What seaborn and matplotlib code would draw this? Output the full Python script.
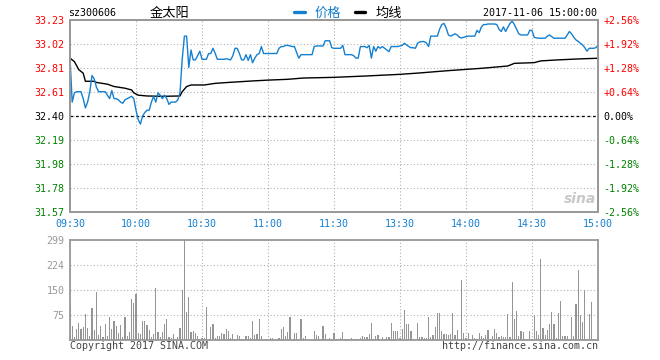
import numpy as np
import pandas as pd
import matplotlib
matplotlib.use("Agg")
import matplotlib.pyplot as plt
from matplotlib.lines import Line2D
import seaborn as sns

# ---------------- data ----------------
symbol = "sz300606"
name = "金太阳"
timestamp = "2017-11-06 15:00:00"
pre_close = 32.40
pct_steps = [-2.56, -1.92, -1.28, -0.64, 0.00, 0.64, 1.28, 1.92, 2.56]
pct_labels = ["-2.56%", "-1.92%", "-1.28%", "-0.64%", "0.00%",
              "+0.64%", "+1.28%", "+1.92%", "+2.56%"]
price_labels = ["31.57", "31.78", "31.98", "32.19", "32.40",
                "32.61", "32.81", "33.02", "33.23"]
time_labels = ["09:30", "10:00", "10:30", "11:00", "11:30",
               "13:30", "14:00", "14:30", "15:00"]
vol_ticks = [75, 150, 224, 299]

price = [
    32.90, 32.52, 32.60, 32.61, 32.61, 32.61, 32.55, 32.47, 32.52, 32.61,
    32.75, 32.72, 32.65, 32.61, 32.61, 32.61, 32.61, 32.58, 32.55, 32.62,
    32.55, 32.55, 32.54, 32.52, 32.51, 32.54, 32.55, 32.56, 32.57, 32.55,
    32.45, 32.37, 32.33, 32.40, 32.43, 32.45, 32.45, 32.52, 32.57, 32.52,
    32.60, 32.58, 32.55, 32.58, 32.55, 32.50, 32.52, 32.52, 32.52, 32.54,
    32.60, 32.89, 33.09, 33.09, 32.82, 32.97, 32.885, 32.885, 32.92, 32.96,
    32.89, 32.89, 32.89, 32.94, 32.94, 32.985, 32.94, 32.89, 32.89, 32.89,
    32.89, 32.895, 32.89, 32.885, 32.92, 32.985, 32.985, 32.94, 32.885, 32.885,
    32.93, 32.88, 32.93, 32.86, 32.90, 32.93, 32.94, 33.00, 32.94, 32.94,
    32.94, 32.94, 32.94, 32.94, 32.94, 32.985, 33.00, 33.00, 33.01, 33.01,
    33.005, 33.00, 33.00, 32.95, 32.90, 32.93, 32.93, 32.93, 32.93, 32.93,
    32.93, 33.00, 33.005, 33.005, 33.005, 33.005, 33.05, 33.05, 33.05, 32.99,
    32.985, 32.985, 32.985, 32.985, 33.01, 32.93, 32.93, 32.93, 32.93, 32.92,
    32.90, 32.90, 33.00, 33.00, 33.00, 32.99, 33.01, 32.90, 33.00, 32.96,
    33.00, 32.985, 33.00, 32.985, 32.97, 32.956, 33.00, 33.00, 33.00, 33.00,
    33.005, 33.01, 33.028, 33.014, 33.00, 32.99, 32.99, 32.985, 33.028, 33.04,
    33.043, 33.043, 33.03, 33.00, 33.09, 33.09, 33.09, 33.09, 33.15, 33.19,
    33.20, 33.16, 33.10, 33.09, 33.10, 33.11, 33.10, 33.08, 33.075, 33.08,
    33.086, 33.09, 33.09, 33.09, 33.09, 33.14, 33.12, 33.17, 33.19, 33.19,
    33.195, 33.195, 33.195, 33.195, 33.19, 33.15, 33.13, 33.17, 33.13, 33.165,
    33.20, 33.22, 33.19, 33.15, 33.11, 33.10, 33.10, 33.10, 33.10, 33.14,
    33.14, 33.08, 33.075, 33.072, 33.072, 33.072, 33.072, 33.09, 33.10, 33.085,
    33.072, 33.072, 33.072, 33.072, 33.072, 33.072, 33.10, 33.13, 33.11, 33.08,
    33.057, 33.045, 33.028, 33.014, 32.99, 32.96, 32.985, 32.985, 32.985, 32.99,
    33.014,
]

avg_minute = [0, 2, 4, 6, 7, 11, 12, 17, 20, 25, 28, 29, 31, 35, 42, 50, 51, 53,
              55, 61, 66, 72, 83, 90, 99, 106, 120, 135, 150, 159, 172, 187,
              199, 202, 211, 214, 221, 231, 240]
avg_price = [32.90, 32.87, 32.80, 32.77, 32.70, 32.70, 32.69, 32.675, 32.655,
             32.64, 32.625, 32.60, 32.58, 32.573, 32.57, 32.573, 32.61, 32.654,
             32.668, 32.668, 32.682, 32.69, 32.703, 32.71, 32.717, 32.728,
             32.734, 32.746, 32.76, 32.772, 32.792, 32.812, 32.832, 32.855,
             32.861, 32.876, 32.884, 32.893, 32.899]

volume = [
    105, 43, 10, 33, 52, 33, 40, 78, 37, 13,
    96, 30, 144, 15, 43, 8, 48, 13, 69, 33,
    57, 43, 22, 45, 9, 69, 13, 25, 123, 112,
    138, 20, 18, 57, 57, 45, 30, 9, 18, 156,
    25, 9, 24, 48, 63, 9, 6, 18, 3, 9,
    36, 150, 299, 84, 129, 24, 27, 21, 12, 3,
    6, 6, 99, 3, 39, 48, 6, 12, 12, 21,
    18, 33, 27, 6, 18, 3, 15, 12, 3, 3,
    12, 12, 6, 57, 15, 18, 63, 12, 0, 3,
    0, 6, 6, 0, 0, 6, 33, 39, 12, 24,
    69, 0, 21, 21, 0, 63, 6, 12, 0, 0,
    0, 27, 15, 12, 0, 42, 18, 3, 5, 3,
    20, 3, 3, 5, 25, 2, 2, 2, 5, 3,
    2, 2, 5, 12, 9, 9, 18, 51, 3, 12,
    15, 3, 9, 2, 9, 9, 51, 27, 27, 27,
    6, 33, 90, 48, 48, 27, 3, 0, 51, 9,
    9, 6, 6, 69, 9, 15, 39, 80, 82, 27,
    18, 18, 15, 18, 81, 15, 30, 3, 180, 21,
    6, 21, 3, 15, 6, 3, 21, 12, 6, 15,
    30, 3, 12, 33, 21, 9, 12, 9, 9, 78,
    9, 174, 63, 87, 12, 27, 24, 3, 3, 27,
    3, 75, 27, 15, 243, 36, 15, 30, 48, 84,
    48, 6, 81, 117, 12, 12, 12, 3, 69, 12,
    108, 210, 75, 54, 150, 3, 78, 114, 3, 0,
    0,
]

# ---------------- style ----------------
sns.set_style("white")
plt.rcParams["font.family"] = ["DejaVu Sans Mono", "Noto Sans CJK SC"]
CJK = ["Noto Sans CJK SC", "DejaVu Sans"]

BLUE = "#1580d0"
RED = "#ff0000"
GREEN = "#008000"
GRAY = "#999999"
GRID = "#b0b0b0"
FS = 7.2

W, H = 660, 360
fig = plt.figure(figsize=(W / 100, H / 100), dpi=100)
fig.patch.set_facecolor("white")


def fx(px):
    return px / W


def fy(py):
    return 1 - py / H


ax = fig.add_axes([fx(70), fy(212), 528 / W, 192 / H])
axv = fig.add_axes([fx(70), fy(340), 528 / W, 100 / H])

minutes = np.arange(len(price))
n_min = len(price) - 1
time_pos = np.arange(len(time_labels)) * (n_min // (len(time_labels) - 1))

df = pd.DataFrame({"minute": minutes, "price": price})
df_avg = pd.DataFrame({"minute": avg_minute, "avg": avg_price})
df_vol = pd.DataFrame({"minute": minutes, "volume": volume})

# ---- price panel ----
price_pos = [pre_close * (1 + p / 100) for p in pct_steps]
ax.set_xlim(0, n_min)
ax.set_ylim(price_pos[0], price_pos[-1])
ax.set_yticks(price_pos)
ax.set_xticks(time_pos)
ax.grid(True, color=GRID, linestyle=(0, (1, 2)), linewidth=0.8)
ax.axhline(pre_close, color="black", linestyle=(0, (2.2, 2.2)), linewidth=0.9, zorder=2)

sns.lineplot(data=df_avg, x="minute", y="avg", ax=ax, color="black",
             linewidth=1.0, legend=False, zorder=3)
sns.lineplot(data=df, x="minute", y="price", ax=ax, color=BLUE,
             linewidth=1.0, legend=False, zorder=4)
ax.set_xlim(0, n_min)
ax.set_ylim(price_pos[0], price_pos[-1])
ax.set_xlabel("")
ax.set_ylabel("")

ax.set_yticklabels(price_labels, fontsize=FS)
for lab, p in zip(ax.get_yticklabels(), pct_steps):
    lab.set_color(RED if p > 0 else (GREEN if p < 0 else "black"))
ax.set_xticklabels(time_labels, fontsize=FS, color=BLUE)
ax.tick_params(axis="both", length=0)
ax.tick_params(axis="y", pad=4)
ax.tick_params(axis="x", pad=5)

ax2 = ax.twinx()
ax2.set_ylim(ax.get_ylim())
ax2.set_yticks(price_pos)
ax2.set_yticklabels(pct_labels, fontsize=FS)
for lab, p in zip(ax2.get_yticklabels(), pct_steps):
    lab.set_color(RED if p > 0 else (GREEN if p < 0 else "black"))
ax2.tick_params(axis="y", length=0, pad=4)
ax2.grid(False)

for a in (ax, ax2, axv):
    for s in a.spines.values():
        s.set_color(GRAY)
        s.set_linewidth(1.3)
        s.set_visible(True)

# ---- volume panel ----
sns.barplot(data=df_vol, x="minute", y="volume", ax=axv, native_scale=True,
            color="#959595", width=0.5, errorbar=None, linewidth=0,
            saturation=1, antialiased=False, zorder=3)
axv.set_xlim(0, n_min)
axv.set_ylim(0, vol_ticks[-1])
axv.set_yticks(vol_ticks)
axv.set_yticklabels([str(v) for v in vol_ticks], fontsize=FS, color=GRAY)
axv.set_xticks(time_pos)
axv.set_xticklabels([])
axv.grid(True, color=GRID, linestyle=(0, (1, 2)), linewidth=0.8, zorder=0)
axv.set_axisbelow(True)
axv.tick_params(axis="both", length=0)
axv.tick_params(axis="y", pad=4)
axv.set_xlabel("")
axv.set_ylabel("")

# ---- header texts ----
fig.text(fx(68), fy(13), symbol, fontsize=FS, ha="left", va="center", color="black")
fig.text(fx(150), fy(13), name, fontsize=9.5, ha="left", va="center",
         color="black", family=CJK)
fig.text(fx(597), fy(13), timestamp, fontsize=FS, ha="right", va="center", color="black")

handles = [Line2D([], [], color=BLUE, linewidth=2.4),
           Line2D([], [], color="black", linewidth=2.4)]
leg = fig.legend(handles, ["价格", "均线"], loc="center left",
                 bbox_to_anchor=(fx(294), fy(13)), bbox_transform=fig.transFigure,
                 ncol=2, frameon=False, borderpad=0, borderaxespad=0,
                 handlelength=0.8, handletextpad=0.75, columnspacing=1.05,
                 prop={"family": CJK, "size": 9.5})
leg.get_texts()[0].set_color(BLUE)
leg.get_texts()[1].set_color("black")

# ---- footer texts ----
fig.text(fx(70), fy(346), "Copyright 2017 SINA.COM", fontsize=FS, ha="left",
         va="center", color="#444444")
fig.text(fx(598), fy(346), "http://finance.sina.com.cn", fontsize=FS, ha="right",
         va="center", color="#444444")
fig.text(fx(580), fy(199), "sina", fontsize=10, ha="center", va="center",
         color="#c8c8c8", style="italic", weight="bold", family="DejaVu Sans")

fig.savefig("out.png", dpi=100, facecolor="white")
